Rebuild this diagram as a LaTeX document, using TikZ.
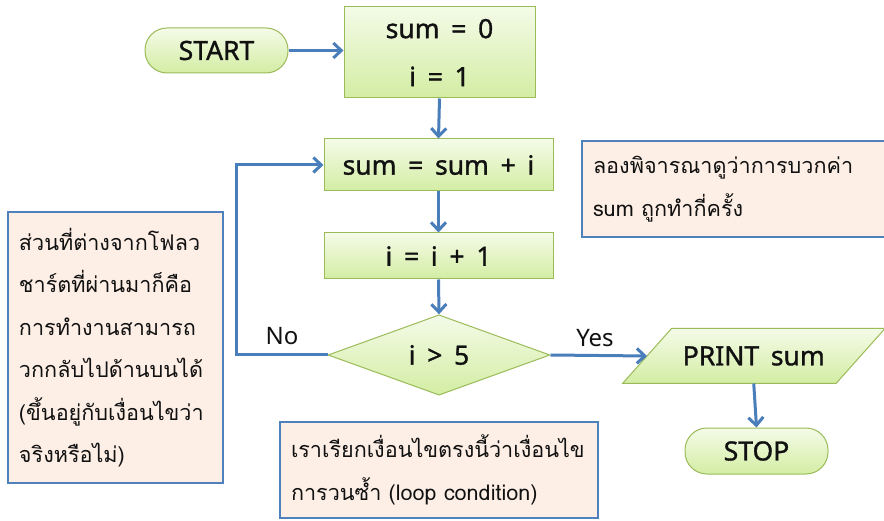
\documentclass[tikz,border=0pt]{standalone}
\usepackage{fontspec}
\setmainfont{Noto Sans}
\newfontfamily\labfont{Noto Sans}[WordSpace=1.7, FakeBold=1.2]
\newfontfamily\thaifont[Script=Thai]{Loma}
\usetikzlibrary{arrows.meta,shapes.geometric,backgrounds}
\definecolor{flowline}{HTML}{4A7EBB}
\definecolor{boxedge}{HTML}{9BBB59}
\definecolor{boxtop}{HTML}{F4FBE8}
\definecolor{boxbot}{HTML}{D3EDA3}
\definecolor{notefill}{HTML}{FDEFE6}
\definecolor{noteedge}{HTML}{4F81BD}
\definecolor{ink}{HTML}{111111}

\begin{document}
\begin{tikzpicture}[x=1pt,y=-1pt,
  boxpaint/.style={draw=boxedge, line width=1pt, top color=boxtop, bottom color=boxbot},
  flowbox/.style={boxpaint, inner sep=0pt, text=ink,
    font=\labfont\fontsize{26.5}{48}\selectfont, align=center},
  pill/.style={flowbox, rounded corners=22pt},
  note/.style={draw=noteedge, line width=2.5pt, fill=notefill, inner xsep=11pt, inner ysep=0pt,
    align=left, text=ink, font=\thaifont\fontsize{21.6}{42.5}\selectfont},
  flow/.style={draw=flowline, line width=3pt, -{Straight Barb[length=8pt,width=15pt]}},
  tag/.style={text=ink, font=\fontsize{24}{28}\selectfont}
]
\useasboundingbox (0,0) rectangle (884,521);

% notes
\node[note, minimum width=215pt, minimum height=271pt, text width=193pt] (noteleft) at (115.5,347.5)
  {ส่วนที่ต่างจากโฟลว\\ชาร์ตที่ผ่านมาก็คือ\\การทำงานสามารถ\\วกกลับไปด้านบนได้\\(ขึ้นอยู่กับเงื่อนไขว่า\\จริงหรือไม่)};
\node[note, minimum width=310pt, minimum height=96pt, text width=288pt] (noteright) at (737,189)
  {ลองพิจารณาดูว่าการบวกค่า\\sum ถูกทำกี่ครั้ง};
\node[note, minimum width=318pt, minimum height=96pt, text width=296pt] (notebottom) at (439,470)
  {เราเรียกเงื่อนไขตรงนี้ว่าเงื่อนไข\\การวนซ้ำ (loop condition)};

% flowchart
\node[pill, minimum width=143pt, minimum height=45pt] (start) at (216.5,50.5) {START};
\node[flowbox, minimum width=191pt, minimum height=91pt] (init) at (439.5,52.5) {\raisebox{-3pt}{sum = 0}\\\raisebox{-3pt}{i = 1}};
\node[flowbox, minimum width=229pt, minimum height=52pt] (acc) at (438.5,165) {sum = sum + i};
\node[flowbox, minimum width=229pt, minimum height=46pt] (inc) at (438.5,256) {i = i + 1};
\node[flowbox, shape=diamond, minimum width=222pt, minimum height=80pt] (test) at (439,355) {i > 5};

% output step: west/east anchors sit at the middle of the slanted sides
\node[flowbox, draw=none, shade=none, minimum width=212.5pt, minimum height=54pt] (print) at (753.75,356) {PRINT sum};
\begin{scope}[on background layer]
  \path[boxpaint] ([xshift=-24.5pt]print.south west) -- ([xshift=24.5pt]print.north west)
    -- ([xshift=24.5pt]print.north east) -- ([xshift=-24.5pt]print.south east) -- cycle;
\end{scope}

\node[pill, minimum width=143pt, minimum height=46pt] (stop) at (756.5,451) {STOP};

\node[tag] (nolabel) at (282,336) {No};
\node[tag] (yeslabel) at (595,338) {Yes};

\coordinate (loopx) at (236,0);

\draw[flow] (start.east) -- (init.west |- start.east);
\draw[flow] (init.south) -- (acc.north);
\draw[flow] (acc.south) -- (inc.north);
\draw[flow] (inc.south) -- (test.north);
\draw[flow] (test.west) -- (test.west -| loopx) |- (acc.west);
\draw[flow] (test.east) -- (print.west);
\draw[flow] (print.south) -- (stop.north);
\end{tikzpicture}
\end{document}
